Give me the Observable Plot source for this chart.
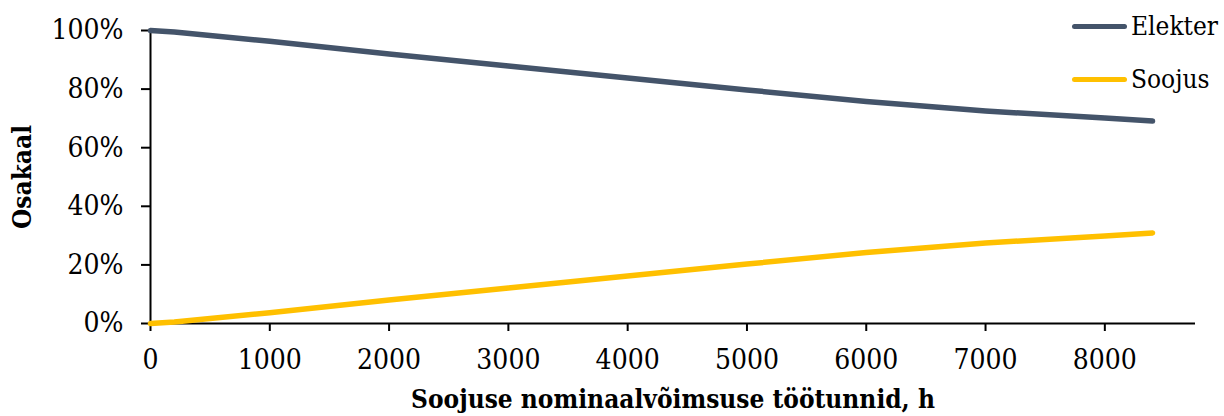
<!DOCTYPE html>
<html>
<head>
<meta charset="utf-8">
<script src="https://cdn.jsdelivr.net/npm/d3@7"></script>
<script src="https://cdn.jsdelivr.net/npm/@observablehq/plot@0.6"></script>
<style>
  html, body { margin: 0; padding: 0; background: #fff; }
  #chart { position: relative; width: 1224px; height: 416px; }
  #chart svg { font-family: "DejaVu Serif Condensed", "DejaVu Serif", serif; font-stretch: condensed; }
  .legend { position: absolute; left: 1072px; top: 0; font-family: "DejaVu Serif Condensed", "DejaVu Serif", serif; font-stretch: condensed; font-size: 26px; color: #000; }
  .legend .item { position: absolute; left: 0; display: flex; align-items: center; white-space: nowrap; }
  .legend .swatch { width: 55px; height: 5px; border-radius: 3px; margin-right: 4px; }
</style>
</head>
<body>
<div id="chart"></div>
<script>
// Operating hours at nominal heat output
const hours = [0, 200, 1000, 2000, 3000, 4000, 5000, 6000, 7000, 8000, 8400];
// Share of electricity and heat in the output
const elekter = [1.000, 0.995, 0.963, 0.920, 0.879, 0.838, 0.797, 0.758, 0.725, 0.701, 0.691];
const soojus  = [0.000, 0.005, 0.037, 0.080, 0.121, 0.162, 0.203, 0.242, 0.275, 0.299, 0.309];

const seriesNames = ["Elekter", "Soojus"];
const seriesColors = ["#44546A", "#FFC000"];
const xTicks = [0, 1000, 2000, 3000, 4000, 5000, 6000, 7000, 8000];
const yTicks = [0, 0.2, 0.4, 0.6, 0.8, 1.0];
const xTitle = "Soojuse nominaalvõimsuse töötunnid, h";
const yTitle = "Osakaal";

const rows = [
  ...hours.map((h, i) => ({h, v: elekter[i], s: seriesNames[0]})),
  ...hours.map((h, i) => ({h, v: soojus[i], s: seriesNames[1]}))
];

const plot = Plot.plot({
  width: 1224,
  height: 416,
  marginLeft: 150,
  marginRight: 29,
  marginTop: 30,
  marginBottom: 93,
  style: {fontSize: "28px", color: "#000", background: "#fff"},
  x: {domain: [0, 8760]},
  y: {domain: [0, 1]},
  color: {domain: seriesNames, range: seriesColors},
  marks: [
    Plot.axisX({ticks: xTicks, tickFormat: d3.format("d"), tickSize: 8, tickPadding: 18, label: null, stroke: "#000", strokeWidth: 2, fontSize: 28}),
    Plot.axisY({ticks: yTicks, tickFormat: d3.format(".0%"), tickSize: 9, tickPadding: 18, label: null, stroke: "#000", strokeWidth: 2, fontSize: 28}),
    Plot.ruleX([0], {stroke: "#000", strokeWidth: 2}),
    Plot.ruleY([0], {stroke: "#000", strokeWidth: 2}),
    Plot.line(rows, {x: "h", y: "v", z: "s", stroke: "s", strokeWidth: 5.5, strokeLinecap: "round", strokeLinejoin: "round"}),
    Plot.text([yTitle], {text: d => d, frameAnchor: "left", textAnchor: "middle", lineAnchor: "middle", rotate: -90, dx: -128, fontWeight: "bold", fontSize: 26}),
    Plot.text([xTitle], {text: d => d, frameAnchor: "bottom", textAnchor: "middle", lineAnchor: "middle", dy: 76, fontWeight: "bold", fontSize: 26})
  ]
});

const chart = document.getElementById("chart");
chart.appendChild(plot);

// Legend in the upper-right corner
const legend = document.createElement("div");
legend.className = "legend";
const legendY = [26, 79];
seriesNames.forEach((name, i) => {
  const item = document.createElement("div");
  item.className = "item";
  item.style.top = (legendY[i] - 16) + "px";
  item.style.height = "32px";
  const sw = document.createElement("span");
  sw.className = "swatch";
  sw.style.background = seriesColors[i];
  const label = document.createElement("span");
  label.textContent = name;
  item.appendChild(sw);
  item.appendChild(label);
  legend.appendChild(item);
});
chart.appendChild(legend);
</script>
</body>
</html>
